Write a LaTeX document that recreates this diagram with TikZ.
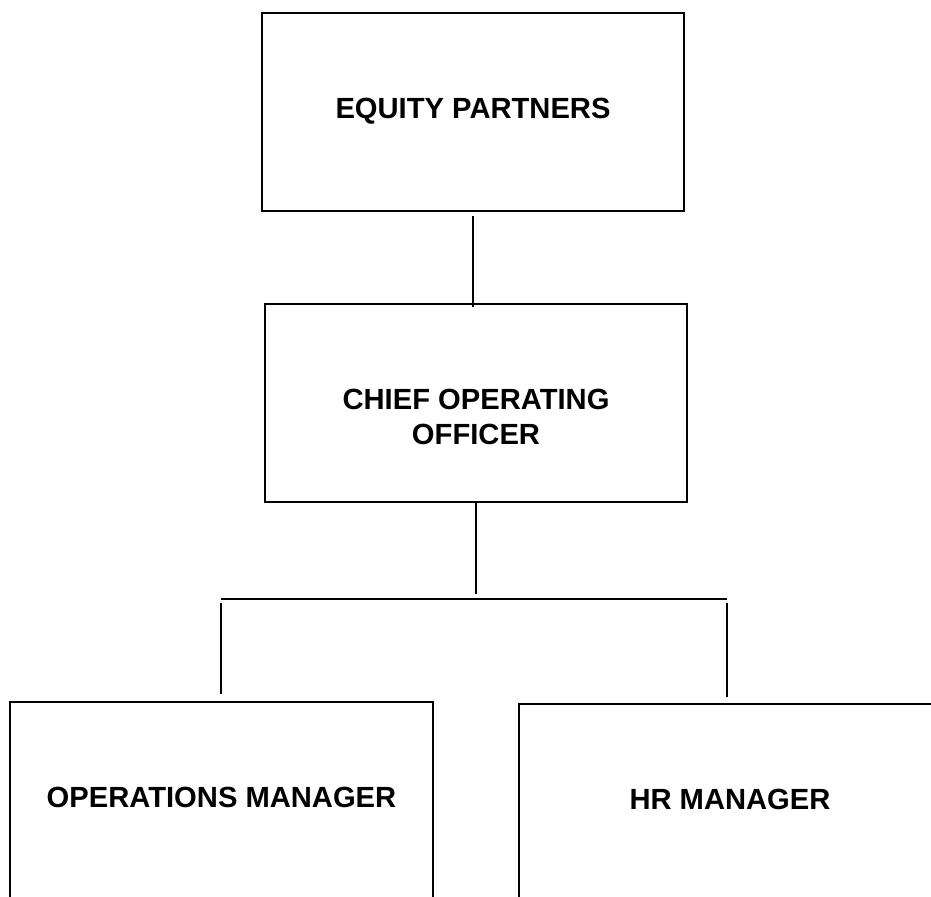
\documentclass[tikz,border=0pt]{standalone}
\usepackage{fontspec}
\setmainfont{Liberation Sans}
\usepackage{xcolor}
\usepackage{tikz}
\usetikzlibrary{positioning}

\begin{document}
\begin{tikzpicture}[
  post/.style={draw, line width=1pt, minimum width=8.45cm, inner sep=0pt,
               text height=2.11cm, text depth=1.85cm, anchor=north,
               font=\fontsize{16.6}{19.9}\selectfont\bfseries, align=center},
  link/.style={line width=1pt}
]
  \useasboundingbox (0,0) rectangle (18.62,-17.92);

  \node[post] (ep) at (9.46,-0.24) {EQUITY PARTNERS};
  \node[post, text height=2.81cm, text depth=1.15cm] (coo) at (9.52,-6.06) {CHIEF OPERATING\\OFFICER};
  \node[post] (ops) at (4.43,-14.02) {OPERATIONS MANAGER};
  \node[post] (hr) at (14.6,-14.06) {HR MANAGER};

  \coordinate (barl) at (4.42,-11.98);
  \coordinate (barr) at (14.54,-11.98);

  \draw[link, shorten <=0.08cm, shorten >=-0.08cm] (ep.south) -- (ep.south |- coo.north);
  \draw[link, shorten >=0.1cm] (coo.south) -- (coo.south |- barl);
  \draw[link] (barl) -- (barr);
  \draw[link, shorten <=0.08cm, shorten >=0.14cm] (barl) -- (barl |- ops.north);
  \draw[link, shorten <=0.08cm, shorten >=0.12cm] (barr) -- (barr |- hr.north);
\end{tikzpicture}
\end{document}
